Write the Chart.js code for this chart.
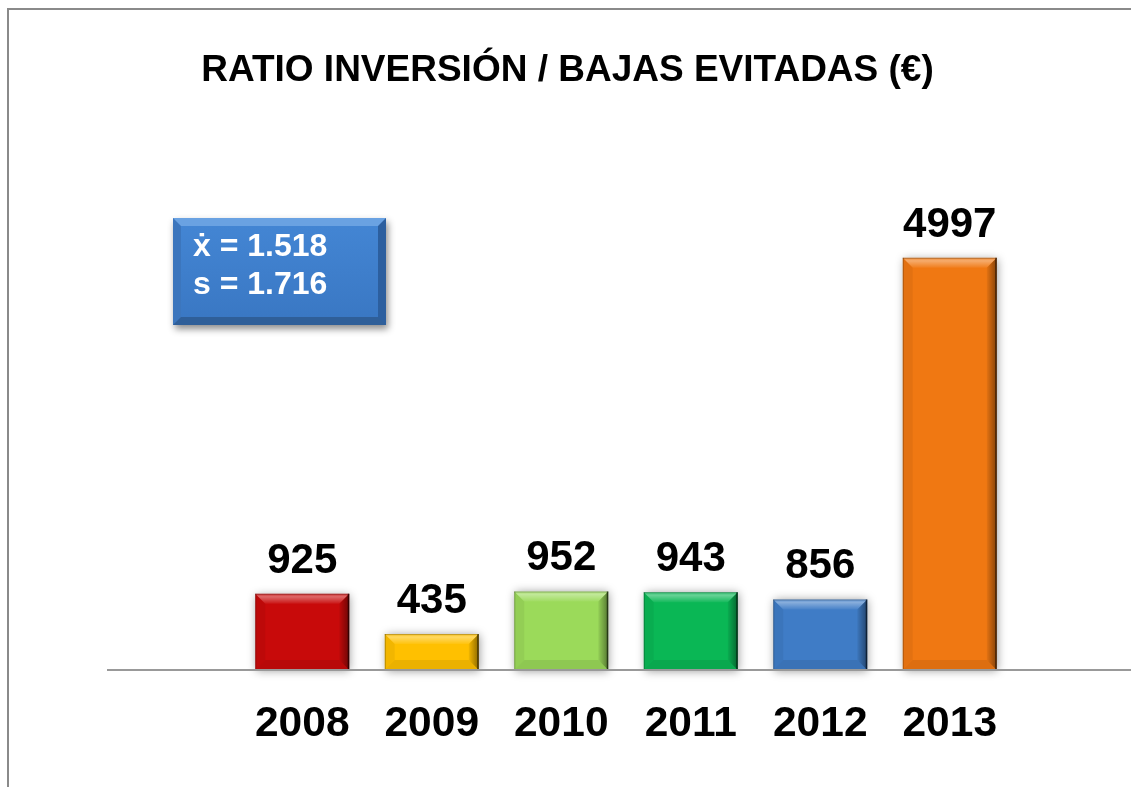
<!DOCTYPE html>
<html>
<head>
<meta charset="utf-8">
<script src="https://cdn.jsdelivr.net/npm/chart.js@4.4.1/dist/chart.umd.min.js"></script>
<style>
    html, body { margin: 0; padding: 0; background: #fff; overflow: hidden; }
    #wrap { position: relative; width: 1131px; height: 787px; overflow: hidden; }
    #frame {
        position: absolute; left: 7px; top: 8px; width: 2000px; height: 2000px;
        border-left: 2px solid #8a8a8a; border-top: 2px solid #8a8a8a;
    }
    #chart { position: absolute; left: 0; top: 0; }
    #stats {
        position: absolute; left: 173px; top: 218px; width: 197px; height: 91px;
        box-sizing: content-box;
        background: linear-gradient(#4385d3, #3a78c4);
        border-style: solid; border-width: 8px;
        border-color: #6aa2e2 #2c5f9f #2f5f99 #3c76bd;
        box-shadow: 2px 4px 7px rgba(0, 0, 0, 0.45);
        color: #fff; font: bold 32px "Liberation Sans", Arial, sans-serif;
        line-height: 38px; padding: 0;
    }
    #stats div { padding-left: 12px; }
</style>
</head>
<body>
<div id="wrap">
    <div id="frame"></div>
    <canvas id="chart" width="1144" height="787"></canvas>
    <div id="stats"></div>
</div>
<script>
const chartTitle = 'RATIO INVERSIÓN / BAJAS EVITADAS (€)';
const years = ['2008', '2009', '2010', '2011', '2012', '2013'];
const ratios = [925, 435, 952, 943, 856, 4997];
const barColors = ['#C80A0A', '#FFC000', '#9BDA5A', '#0AB755', '#3F7CC6', '#F07812'];
const statLines = ['ẋ = 1.518', 's = 1.716'];
const yMax = 6000;

const FONT = '"Liberation Sans", Arial, sans-serif';

document.getElementById('stats').innerHTML =
    statLines.map(s => `<div>${s}</div>`).join('');

function barBox(bar) {
    const p = bar.getProps(['x', 'y', 'base', 'width'], true);
    return { l: p.x - p.width / 2, r: p.x + p.width / 2, t: p.y, b: p.base, x: p.x };
}

function poly(ctx, pts, fill) {
    ctx.beginPath();
    ctx.moveTo(pts[0][0], pts[0][1]);
    pts.slice(1).forEach(p => ctx.lineTo(p[0], p[1]));
    ctx.closePath();
    ctx.fillStyle = fill;
    ctx.fill();
}

const bevelPlugin = {
    id: 'bevel',
    beforeDatasetsDraw(chart) {
        const ctx = chart.ctx;
        const values = chart.data.datasets[0].data;
        chart.getDatasetMeta(0).data.forEach((bar, i) => {
            if (values[i] == null) return;
            const r = barBox(bar);
            ctx.save();
            ctx.shadowColor = 'rgba(0,0,0,0.4)';
            ctx.shadowBlur = 9;
            ctx.shadowOffsetX = 1;
            ctx.shadowOffsetY = 1;
            ctx.fillStyle = '#fff';
            ctx.fillRect(r.l, r.t, r.r - r.l, r.b - r.t);
            ctx.restore();
        });
    },
    afterDatasetsDraw(chart) {
        const ctx = chart.ctx;
        const values = chart.data.datasets[0].data;
        chart.getDatasetMeta(0).data.forEach((bar, i) => {
            if (values[i] == null) return;
            const r = barBox(bar);
            const b = 10;
            ctx.save();
            // top highlight
            const gTop = ctx.createLinearGradient(0, r.t, 0, r.t + b);
            gTop.addColorStop(0, 'rgba(255,255,255,0.15)');
            gTop.addColorStop(0.3, 'rgba(255,255,255,0.38)');
            gTop.addColorStop(1, 'rgba(255,255,255,0.05)');
            poly(ctx, [[r.l, r.t], [r.r, r.t], [r.r - b, r.t + b], [r.l + b, r.t + b]], gTop);
            // right shade
            const gR = ctx.createLinearGradient(r.r - b, 0, r.r, 0);
            gR.addColorStop(0, 'rgba(0,0,0,0.05)');
            gR.addColorStop(1, 'rgba(0,0,0,0.45)');
            poly(ctx, [[r.r, r.t], [r.r, r.b], [r.r - b, r.b - b], [r.r - b, r.t + b]], gR);
            // bottom shade
            poly(ctx, [[r.l, r.b], [r.r, r.b], [r.r - b, r.b - b], [r.l + b, r.b - b]], 'rgba(0,0,0,0.08)');
            // left shade
            poly(ctx, [[r.l, r.t], [r.l, r.b], [r.l + b, r.b - b], [r.l + b, r.t + b]], 'rgba(0,0,0,0.05)');
            // edges
            ctx.fillStyle = 'rgba(0,0,0,0.25)';
            ctx.fillRect(r.l, r.t, r.r - r.l, 1);
            ctx.fillRect(r.l, r.t, 1, r.b - r.t);
            ctx.fillStyle = 'rgba(0,0,0,0.55)';
            ctx.fillRect(r.r - 1.5, r.t, 1.5, r.b - r.t);
            // value label
            ctx.fillStyle = '#000';
            ctx.font = 'bold 42px ' + FONT;
            ctx.textAlign = 'center';
            ctx.textBaseline = 'alphabetic';
            ctx.fillText(String(values[i]), r.x, r.t - 21);
            ctx.restore();
        });
    },
    afterDraw(chart) {
        const ctx = chart.ctx;
        ctx.save();
        ctx.fillStyle = '#000';
        ctx.font = 'bold 37px ' + FONT;
        ctx.textAlign = 'center';
        ctx.textBaseline = 'alphabetic';
        ctx.fillText(chartTitle, 567.5, 81);
        ctx.restore();
    }
};

new Chart(document.getElementById('chart'), {
    type: 'bar',
    data: {
        labels: ['', ...years, ''],
        datasets: [{
            data: [null, ...ratios, null],
            backgroundColor: ['rgba(0,0,0,0)', ...barColors, 'rgba(0,0,0,0)'],
            borderWidth: 0,
            barPercentage: 0.726,
            categoryPercentage: 1
        }]
    },
    options: {
        responsive: false,
        animation: false,
        devicePixelRatio: 1,
        layout: { padding: { left: 108, right: 0, top: 175, bottom: 0 } },
        scales: {
            y: {
                display: false,
                min: 0,
                max: yMax
            },
            x: {
                grid: { display: false, drawTicks: false },
                border: { display: true, color: '#999', width: 2, z: 1 },
                ticks: {
                    color: '#000',
                    padding: 29,
                    font: { family: FONT, size: 42.5, weight: 'bold' }
                },
                afterFit(scale) { scale.height = 117; }
            }
        },
        plugins: {
            legend: { display: false },
            tooltip: { enabled: false },
            title: { display: false }
        }
    },
    plugins: [bevelPlugin]
});
</script>
</body>
</html>
